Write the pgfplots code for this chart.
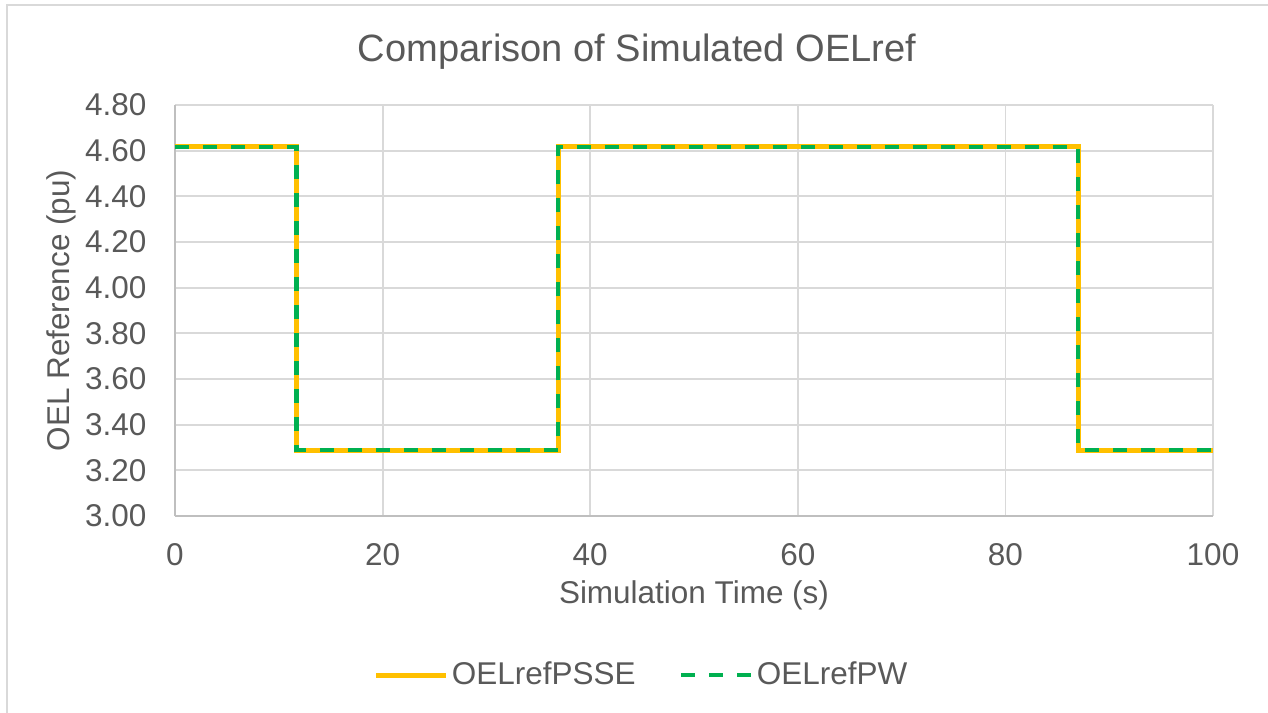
\documentclass[border=0pt]{standalone}
\usepackage{pgfplots}
\pgfplotsset{compat=1.18}
\usepackage{fontspec}
\setmainfont{Liberation Sans}

\definecolor{txt}{HTML}{595959}
\definecolor{gridc}{HTML}{D9D9D9}
\definecolor{axc}{HTML}{BFBFBF}
\definecolor{psse}{HTML}{FFC000}
\definecolor{pw}{HTML}{00B050}

\pgfplotstableread{
t     v
0     4.617
11.7  4.617
11.7  3.289
36.9  3.289
36.9  4.617
87.0  4.617
87.0  3.289
100   3.289
}\psse

\pgfplotstableread{
t     v
0     4.617
11.7  4.617
11.7  3.289
36.9  3.289
36.9  4.617
87.0  4.617
87.0  3.289
100   3.289
}\pw

\begin{document}
\begin{tikzpicture}
\useasboundingbox (-87.5bp,-98.5bp) rectangle (546.5bp,258bp);
% chart area border (left and top only visible)
\draw[gridc, line width=0.6bp] (-84bp,-98.5bp) -- (-84bp,255.5bp) -- (546.5bp,255.5bp);
\begin{axis}[
  scale only axis,
  width=519bp, height=205.5bp,
  xmin=0, xmax=100, ymin=3, ymax=4.8,
  xtick={0,20,...,100},
  ytick={3,3.2,...,4.81},
  axis x line=bottom, axis y line=left,
  axis line style={-, axc, line width=0.8bp},
  major tick length=0pt,
  grid=major,
  major grid style={gridc, line width=0.9bp},
  font=\fontsize{15.8}{18}\selectfont,
  every tick label/.append style={txt},
  /pgf/number format/assume math mode=true,
  yticklabel style={/pgf/number format/.cd, fixed, fixed zerofill, precision=2, /tikz/.cd,
    anchor=east, inner xsep=0pt, xshift=-14.1bp},
  xticklabel style={anchor=base, yshift=-24.5bp},
  every axis title shift=0pt,
  title={Comparison of Simulated OELref},
  title style={at={(axis description cs:0.4451,1.1054)}, anchor=base, txt,
    font=\fontsize{19.1}{22}\selectfont},
  xlabel={Simulation Time (s)},
  xlabel style={at={(axis description cs:0.5,-0.2141)}, anchor=base, txt},
  ylabel={OEL Reference (pu)},
  ylabel style={at={(axis description cs:-0.1012,0.5)}, anchor=base, txt},
  legend columns=-1,
  legend style={at={(axis description cs:0.45,-0.387)}, anchor=center, draw=none,
    fill=none, text=txt, inner sep=0pt,
    nodes={inner xsep=1.7bp, inner ysep=0pt},
    /tikz/every even column/.append style={column sep=20bp}},
  legend image code/.code={\draw[#1] (0bp,0bp) -- (35bp,0bp);},
]
\addplot[psse, line width=2.5bp] table[x=t, y=v] {\psse};
\addlegendentry{OELrefPSSE}
\addplot[pw, line width=2.2bp, dash pattern=on 7bp off 7bp] table[x=t, y=v] {\pw};
\addlegendentry{OELrefPW}
\end{axis}
\end{tikzpicture}
\end{document}
